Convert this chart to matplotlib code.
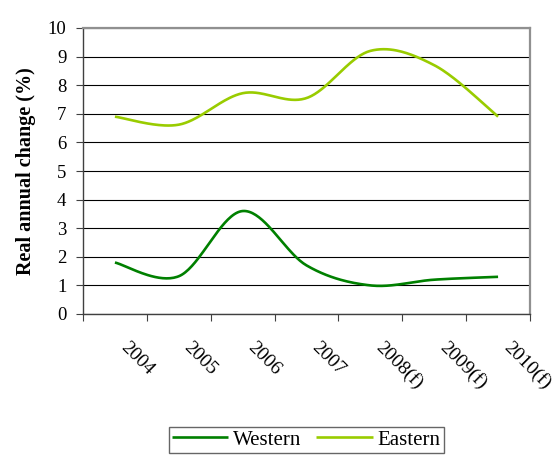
import numpy as np
import matplotlib
matplotlib.use('Agg')
import matplotlib.pyplot as plt
from matplotlib.transforms import ScaledTranslation

years = ['2004', '2005', '2006', '2007', '2008(f)', '2009(f)', '2010(f)']
western = [1.8, 1.32, 3.6, 1.7, 1.0, 1.2, 1.3]
eastern = [6.9, 6.62, 7.72, 7.55, 9.2, 8.7, 6.9]


def smooth(ys, n=40):
    # Excel-like smoothed line: Catmull-Rom through the points as cubic Beziers
    pts = np.column_stack([np.arange(len(ys)), ys]).astype(float)
    ext = np.vstack([pts[0], pts, pts[-1]])
    t = np.linspace(0, 1, n)[:, None]
    out = []
    for i in range(len(pts) - 1):
        p0, p3 = ext[i + 1], ext[i + 2]
        p1 = p0 + (ext[i + 2] - ext[i]) / 6
        p2 = p3 - (ext[i + 3] - ext[i + 1]) / 6
        seg = ((1 - t) ** 3) * p0 + 3 * ((1 - t) ** 2) * t * p1 + 3 * (1 - t) * t ** 2 * p2 + t ** 3 * p3
        out.append(seg if i == 0 else seg[1:])
    out = np.vstack(out)
    return out[:, 0], out[:, 1]


plt.rcParams['font.family'] = 'Liberation Serif'

fig = plt.figure(figsize=(5.6, 4.55), dpi=100)
ax = fig.add_axes([83 / 560, 1 - 314 / 455, (530 - 83) / 560, (314 - 28) / 455])

x, y = smooth(western)
ax.plot(x, y, color='#008000', lw=1.9, label='Western', solid_capstyle='butt')
x, y = smooth(eastern)
ax.plot(x, y, color='#99CC00', lw=1.9, label='Eastern', solid_capstyle='butt')

ax.set_xlim(-0.5, len(years) - 0.5)
ax.set_ylim(0, 10)
ax.set_yticks(range(0, 11))
ax.yaxis.grid(True, color='black', lw=0.8)
ax.set_axisbelow(True)

ax.set_xticks(np.arange(-0.5, len(years), 1.0))
ax.set_xticklabels([])
ax.set_xticks(range(len(years)), minor=True)
ax.set_xticklabels(years, minor=True, rotation=-45, ha='left', va='center',
                   rotation_mode='anchor', fontsize=14)
ax.tick_params(axis='x', which='minor', length=0, pad=22)
ax.tick_params(axis='x', which='major', length=5, direction='out', color='#404040')
ax.tick_params(axis='y', length=5, direction='out', color='#404040', labelsize=13.5, pad=7)
for lab in ax.get_xticklabels(minor=True):
    lab.set_transform(lab.get_transform() + ScaledTranslation(0.08, 0, fig.dpi_scale_trans))

for s in ['top', 'right']:
    ax.spines[s].set_color('#909090')
    ax.spines[s].set_linewidth(1.6)
for s in ['left', 'bottom']:
    ax.spines[s].set_color('#404040')
    ax.spines[s].set_linewidth(1.0)

ax.set_ylabel('Real annual change (%)', fontsize=14.5, fontweight='bold', labelpad=8)

leg = fig.legend(loc='upper center', bbox_to_anchor=(0.547, 1 - 427 / 455), ncol=2,
                 fontsize=15, frameon=True, fancybox=False, edgecolor='#404040',
                 handlelength=2.7, columnspacing=0.7, handletextpad=0.25,
                 borderpad=0.15, borderaxespad=0)
leg.get_frame().set_linewidth(1.0)

fig.savefig('out.png', dpi=100)
